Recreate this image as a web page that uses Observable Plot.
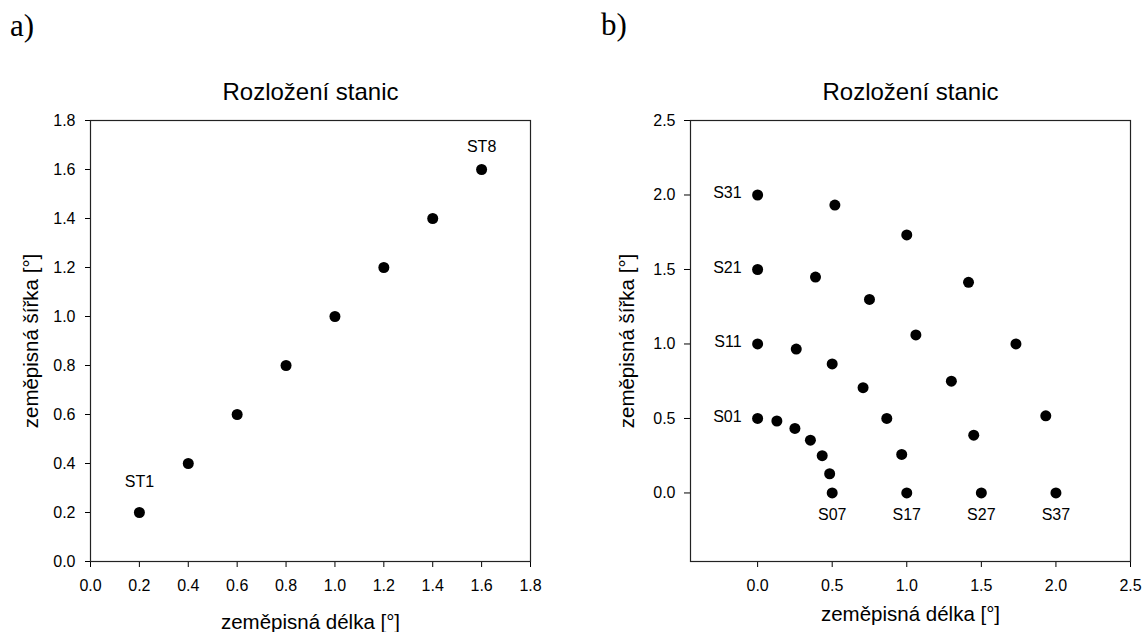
<!DOCTYPE html>
<html><head><meta charset="utf-8">
<script src="https://cdn.jsdelivr.net/npm/d3@7"></script>
<script src="https://cdn.jsdelivr.net/npm/@observablehq/plot@0.6"></script>
<style>
body{margin:0;background:#fff;}
#wrap{position:relative;width:1143px;height:632px;overflow:hidden;background:#fff;}
.pl{position:absolute;font-family:"Liberation Serif","Times New Roman",serif;font-size:31px;line-height:1;color:#000;}
#wrap svg{position:absolute;}
</style></head><body>
<div id="wrap">
<div class="pl" style="left:10px;top:10px">a)</div>
<div class="pl" style="left:601px;top:9px">b)</div>
</div>
<script>
const titleText = "Rozložení stanic";
const xLabel = "zeměpisná délka [°]";
const yLabel = "zeměpisná šířka [°]";

// Panel a
const stationsA = ["ST1","ST2","ST3","ST4","ST5","ST6","ST7","ST8"];
const lonA = [0.2,0.4,0.6,0.8,1.0,1.2,1.4,1.6];
const latA = [0.2,0.4,0.6,0.8,1.0,1.2,1.4,1.6];
const ticksA = [0,0.2,0.4,0.6,0.8,1.0,1.2,1.4,1.6,1.8];

// Panel b
const stationsB = ["S01","S02","S03","S04","S05","S06","S07",
                   "S11","S12","S13","S14","S15","S16","S17",
                   "S21","S22","S23","S24","S25","S26","S27",
                   "S31","S32","S33","S34","S35","S36","S37"];
const lonB = [0, 0.129, 0.25, 0.354, 0.433, 0.483, 0.5,
              0, 0.259, 0.5, 0.707, 0.866, 0.966, 1.0,
              0, 0.388, 0.75, 1.061, 1.299, 1.449, 1.5,
              0, 0.518, 1.0, 1.414, 1.732, 1.932, 2.0];
const latB = [0.5, 0.483, 0.433, 0.354, 0.25, 0.129, 0,
              1.0, 0.966, 0.866, 0.707, 0.5, 0.259, 0,
              1.5, 1.449, 1.299, 1.061, 0.75, 0.388, 0,
              2.0, 1.932, 1.732, 1.414, 1.0, 0.518, 0];
const ticksB = [0,0.5,1.0,1.5,2.0,2.5];
const leftLabelsB = ["S01","S11","S21","S31"];
const bottomLabelsB = ["S07","S17","S27","S37"];

const dataA = stationsA.map((s,i)=>({name:s, lon:lonA[i], lat:latA[i]}));
const dataB = stationsB.map((s,i)=>({name:s, lon:lonB[i], lat:latB[i]}));
const fmt = d3.format(".1f");
const font = "'Liberation Sans', Arial, sans-serif";
const ident = d => d;

const plotA = Plot.plot({
  width: 561, height: 572,
  marginLeft: 80, marginRight: 41, marginTop: 60, marginBottom: 71,
  style: {background: "#fff", fontFamily: font, color: "#000", overflow: "visible"},
  x: {domain: [0, 1.8]},
  y: {domain: [0, 1.8]},
  marks: [
    Plot.axisX({ticks: ticksA, tickFormat: fmt, tickSize: 6, tickPadding: 12, fontSize: 16, label: null}),
    Plot.axisY({ticks: ticksA, tickFormat: fmt, tickSize: 5, tickPadding: 10, fontSize: 16, label: null}),
    Plot.dot(dataA, {x: "lon", y: "lat", r: 5.5, fill: "black"}),
    Plot.text(dataA.filter(d => d.name === "ST1"), {x: "lon", y: "lat", text: "name", dy: -31, fontSize: 16}),
    Plot.text(dataA.filter(d => d.name === "ST8"), {x: "lon", y: "lat", text: "name", dy: -23, fontSize: 16}),
    Plot.text([titleText], {text: ident, frameAnchor: "top", textAnchor: "middle", lineAnchor: "bottom", dy: -21, fontSize: 24}),
    Plot.text([xLabel], {text: ident, frameAnchor: "bottom", textAnchor: "middle", lineAnchor: "bottom", dy: 67, fontSize: 20.5}),
    Plot.text([yLabel], {text: ident, frameAnchor: "left", textAnchor: "middle", rotate: -90, dx: -59, fontSize: 20.5}),
    Plot.frame({stroke: "#222", strokeWidth: 1.2})
  ]
});
plotA.style.left = "10px"; plotA.style.top = "60px";

const plotB = Plot.plot({
  width: 562, height: 572,
  marginLeft: 109, marginRight: 13, marginTop: 60, marginBottom: 71,
  style: {background: "#fff", fontFamily: font, color: "#000", overflow: "visible"},
  x: {domain: [-0.45, 2.5]},
  y: {domain: [-0.46, 2.5]},
  marks: [
    Plot.axisX({ticks: ticksB, tickFormat: fmt, tickSize: 6, tickPadding: 12, fontSize: 16, label: null}),
    Plot.axisY({ticks: ticksB, tickFormat: fmt, tickSize: 6, tickPadding: 9, fontSize: 16, label: null}),
    Plot.dot(dataB, {x: "lon", y: "lat", r: 5.5, fill: "black"}),
    Plot.text(dataB.filter(d => leftLabelsB.includes(d.name)), {x: "lon", y: "lat", text: "name", textAnchor: "end", dx: -16, dy: -2, fontSize: 16}),
    Plot.text(dataB.filter(d => bottomLabelsB.includes(d.name)), {x: "lon", y: "lat", text: "name", dy: 22, fontSize: 16}),
    Plot.text([titleText], {text: ident, frameAnchor: "top", textAnchor: "middle", lineAnchor: "bottom", dy: -21, fontSize: 24}),
    Plot.text([xLabel], {text: ident, frameAnchor: "bottom", textAnchor: "middle", lineAnchor: "bottom", dy: 59, fontSize: 20.5}),
    Plot.text([yLabel], {text: ident, frameAnchor: "left", textAnchor: "middle", rotate: -90, dx: -63, fontSize: 20.5}),
    Plot.frame({stroke: "#222", strokeWidth: 1.2})
  ]
});
plotB.style.left = "581px"; plotB.style.top = "60px";

const wrap = document.getElementById("wrap");
wrap.appendChild(plotA);
wrap.appendChild(plotB);
</script>
</body></html>
